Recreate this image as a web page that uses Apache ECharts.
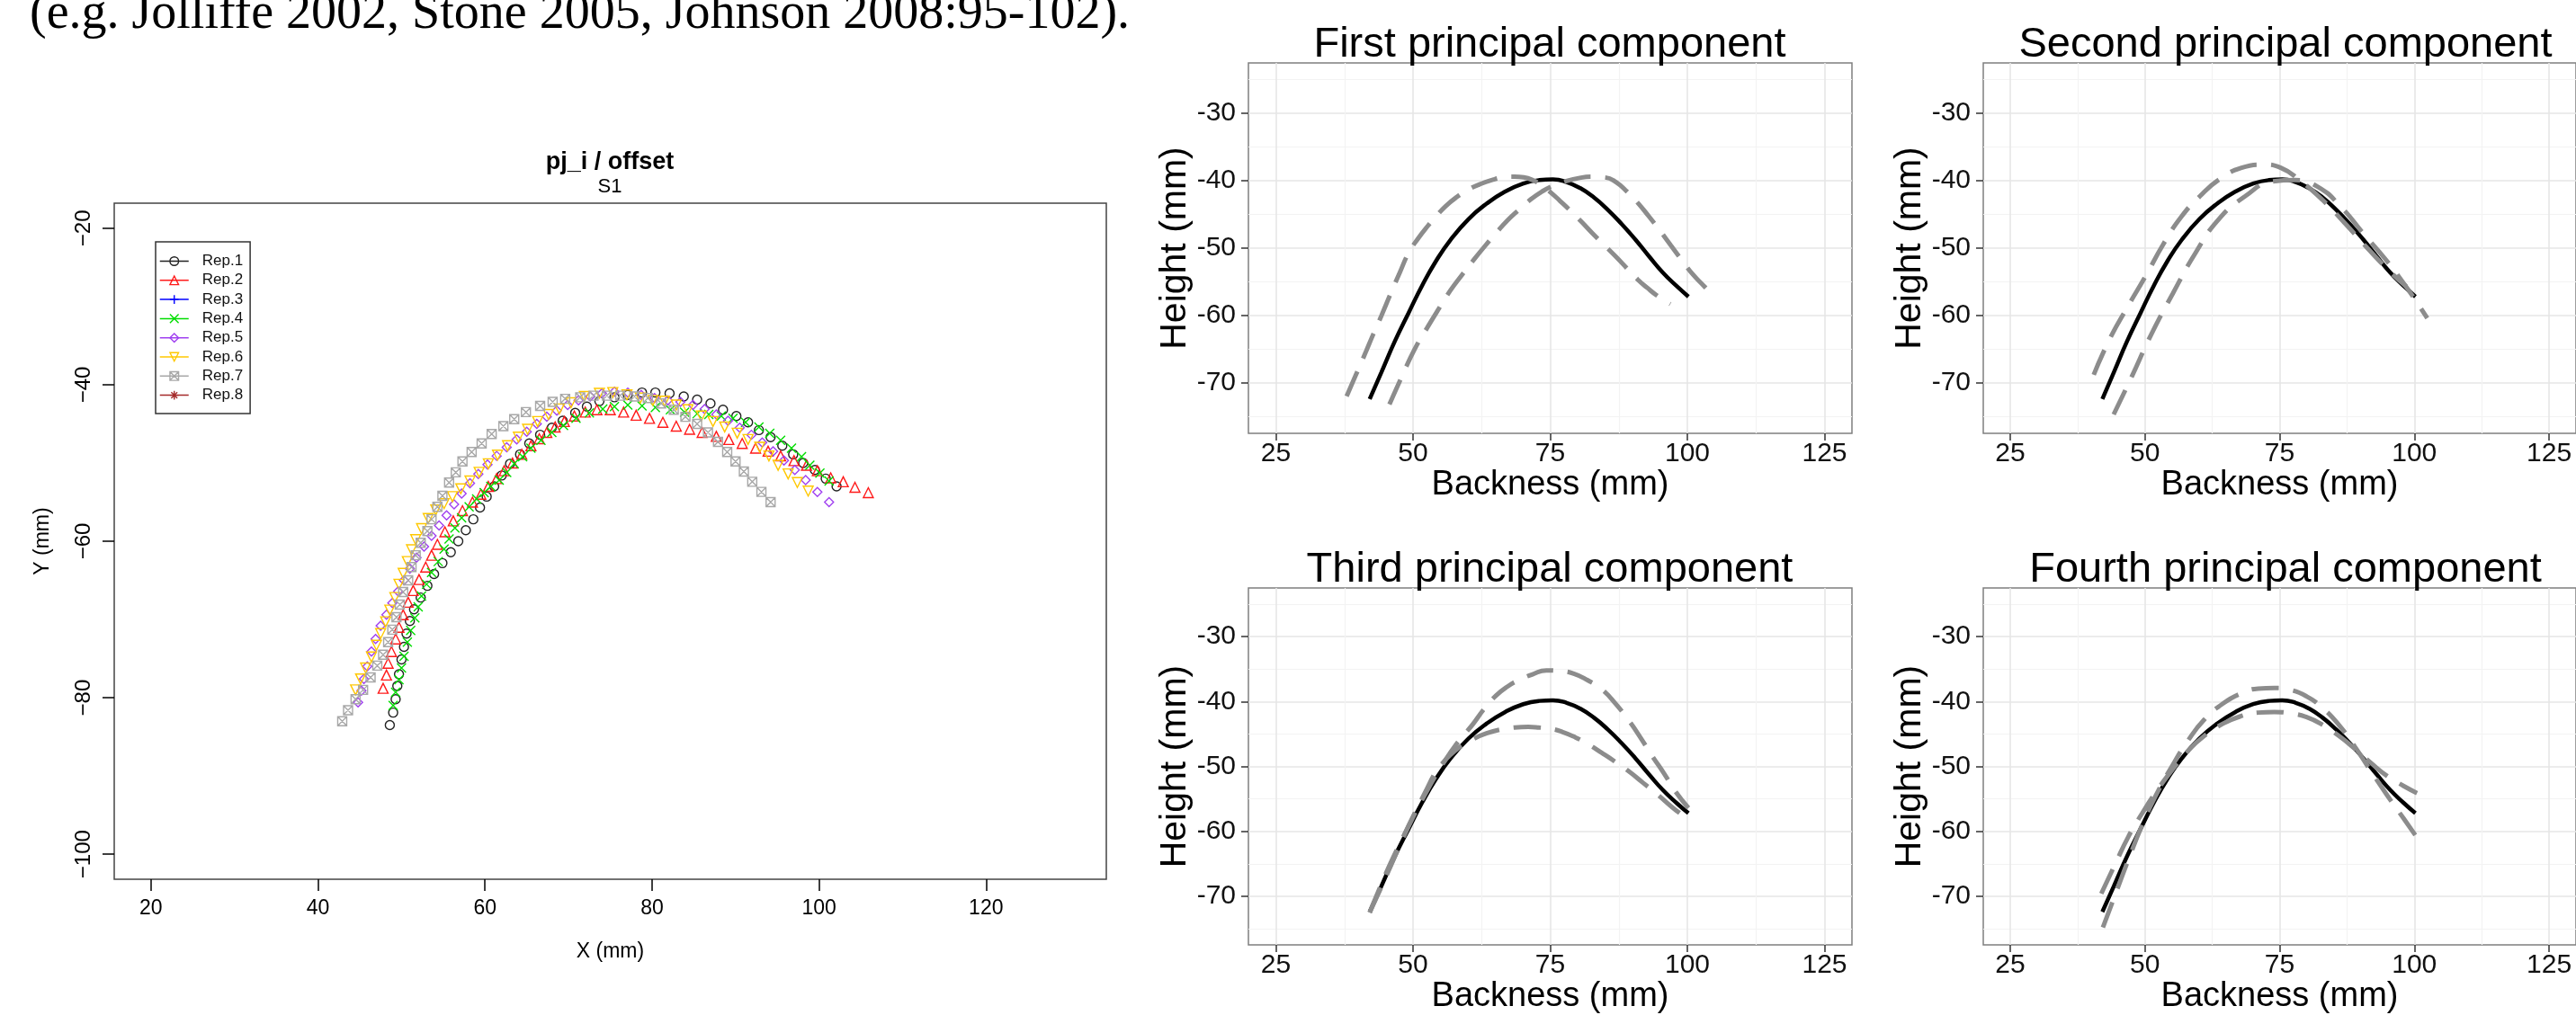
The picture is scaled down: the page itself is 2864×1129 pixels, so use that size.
<!DOCTYPE html>
<html>
<head>
<meta charset="utf-8">
<script src="https://cdn.jsdelivr.net/npm/echarts@6.0.0/dist/echarts.min.js"></script>
<style>
  html, body { margin: 0; padding: 0; background: #fff; }
  #main { width: 2864px; height: 1129px; }
</style>
</head>
<body>
<div id="main"></div>
<script>
// ---- left plot: tongue contours per repetition ----
const rTicksX = [20, 40, 60, 80, 100, 120];
const rTicksY = [-100, -80, -60, -40, -20];

const repNames = ['Rep.1', 'Rep.2', 'Rep.3', 'Rep.4', 'Rep.5', 'Rep.6', 'Rep.7', 'Rep.8'];

const rep1 = [[48.6,-83.5],[49.0,-81.9],[49.3,-80.2],[49.5,-78.5],[49.7,-77.0],[50.0,-75.1],[50.3,-73.5],[50.6,-71.8],[51.0,-70.2],[51.5,-68.7],[52.3,-67.2],[53.1,-65.7],[53.9,-64.2],[54.9,-62.8],[55.9,-61.4],[56.8,-60.0],[57.7,-58.6],[58.6,-57.2],[59.4,-55.7],[60.2,-54.3],[61.1,-53.0],[62.0,-51.6],[63.0,-50.1],[64.2,-48.9],[65.3,-47.5],[66.6,-46.4],[68.0,-45.5],[69.3,-44.6],[70.8,-43.6],[72.2,-42.8],[73.7,-42.1],[75.5,-41.6],[77.1,-41.3],[78.8,-41.0],[80.4,-41.0],[82.1,-41.1],[83.8,-41.5],[85.4,-41.9],[87.0,-42.4],[88.5,-43.2],[90.1,-44.0],[91.5,-44.8],[92.8,-45.8],[94.2,-46.7],[95.6,-47.8],[96.9,-48.9],[98.1,-50.0],[99.5,-50.9],[100.8,-52.0],[102.1,-53.0]];
const rep2 = [[47.8,-78.8],[48.2,-77.1],[48.4,-75.6],[48.8,-74.1],[49.3,-72.5],[49.7,-71.0],[50.2,-69.4],[50.8,-67.8],[51.4,-66.3],[52.1,-64.9],[52.9,-63.3],[53.6,-61.8],[54.3,-60.4],[55.2,-58.8],[56.2,-57.4],[57.3,-56.1],[58.5,-55.0],[59.5,-54.0],[60.4,-53.0],[61.4,-52.0],[62.3,-51.0],[63.3,-50.0],[64.4,-48.9],[65.5,-47.8],[66.5,-46.9],[67.4,-46.1],[68.4,-45.4],[69.5,-44.7],[70.7,-44.0],[72.0,-43.5],[73.4,-43.2],[75.0,-43.2],[76.6,-43.5],[78.1,-43.9],[79.7,-44.3],[81.3,-44.8],[82.9,-45.3],[84.5,-45.7],[86.0,-46.1],[87.7,-46.6],[89.2,-47.0],[90.8,-47.5],[92.4,-48.1],[93.9,-48.5],[95.4,-49.1],[97.0,-49.7],[98.5,-50.3],[99.8,-51.0],[101.4,-51.9],[102.9,-52.4],[104.3,-53.1],[105.9,-53.8]];
const rep3 = [];
const rep4 = [[49.0,-81.0],[49.3,-79.3],[49.7,-77.7],[50.0,-76.2],[50.3,-74.7],[50.7,-72.9],[51.1,-71.4],[51.6,-69.8],[52.0,-68.4],[52.4,-67.0],[53.0,-65.5],[53.6,-64.0],[54.4,-62.6],[55.1,-61.0],[55.7,-59.7],[56.4,-58.3],[57.2,-57.0],[58.1,-55.6],[59.0,-54.6],[59.9,-53.8],[60.7,-53.0],[61.7,-52.2],[62.6,-51.2],[63.5,-50.1],[64.5,-49.2],[65.5,-48.1],[66.7,-47.1],[68.0,-46.1],[69.4,-45.2],[70.9,-44.3],[72.5,-43.6],[74.1,-43.1],[75.5,-42.8],[77.1,-42.6],[78.8,-42.7],[80.4,-42.9],[82.2,-43.2],[83.9,-43.5],[85.4,-43.7],[86.8,-43.8],[88.3,-44.0],[89.7,-44.3],[91.2,-44.8],[92.8,-45.4],[94.1,-46.2],[95.4,-47.1],[96.7,-48.1],[97.9,-49.2],[98.9,-50.3],[100.1,-51.3],[101.2,-52.3]];
const rep5 = [[44.8,-80.6],[45.2,-79.1],[45.5,-77.6],[45.9,-76.0],[46.4,-74.1],[46.9,-72.5],[47.5,-70.8],[48.2,-69.4],[48.9,-67.9],[49.6,-66.4],[50.3,-65.0],[51.0,-63.5],[51.8,-62.1],[52.7,-60.7],[53.6,-59.3],[54.5,-58.0],[55.4,-56.7],[56.3,-55.3],[57.2,-53.9],[58.2,-52.6],[59.2,-51.4],[60.3,-50.2],[61.4,-49.1],[62.6,-48.0],[63.8,-47.0],[65.0,-46.0],[66.2,-45.0],[67.4,-44.1],[68.6,-43.3],[69.9,-42.6],[71.2,-42.0],[72.6,-41.5],[74.0,-41.1],[75.5,-40.9],[77.1,-41.0],[78.7,-41.3],[80.3,-41.7],[81.9,-42.0],[83.4,-42.2],[84.9,-42.6],[86.3,-43.1],[87.7,-43.8],[89.1,-44.6],[90.5,-45.5],[91.9,-46.4],[93.2,-47.4],[94.5,-48.5],[95.8,-49.7],[97.1,-50.9],[98.4,-52.2],[99.8,-53.7],[101.2,-55.0]];
const rep6 = [[44.5,-79.0],[45.1,-77.6],[45.7,-76.2],[46.4,-74.8],[47.0,-73.3],[47.5,-71.8],[48.1,-70.3],[48.6,-68.8],[49.2,-67.2],[49.7,-65.5],[50.2,-64.1],[50.7,-62.6],[51.2,-61.1],[51.7,-59.8],[52.4,-58.4],[53.2,-57.1],[54.1,-56.0],[55.1,-55.2],[56.1,-54.3],[57.1,-53.3],[58.2,-52.3],[59.3,-51.2],[60.4,-50.1],[61.5,-49.0],[62.7,-47.8],[64.0,-46.7],[65.1,-45.7],[66.3,-44.7],[67.6,-43.8],[68.9,-43.1],[70.3,-42.3],[71.9,-41.5],[73.7,-41.1],[75.3,-41.0],[77.0,-41.3],[78.6,-41.7],[80.1,-42.0],[81.5,-42.1],[82.9,-42.6],[84.3,-43.2],[85.9,-44.0],[87.3,-44.7],[88.7,-45.4],[90.2,-46.2],[91.5,-47.0],[92.9,-48.0],[94.0,-49.1],[95.1,-50.3],[96.3,-51.4],[97.4,-52.5],[98.7,-53.6]];
const rep7 = [[42.9,-83.0],[43.6,-81.6],[44.5,-80.2],[45.4,-79.0],[46.3,-77.4],[47.1,-75.9],[47.8,-74.5],[48.4,-72.9],[48.9,-71.3],[49.4,-69.7],[49.8,-68.1],[50.2,-66.5],[50.8,-65.0],[51.2,-63.3],[51.7,-61.8],[52.3,-60.2],[53.1,-58.7],[53.6,-57.2],[54.3,-55.6],[54.9,-54.2],[55.7,-52.5],[56.5,-51.2],[57.3,-49.8],[58.4,-48.6],[59.6,-47.5],[60.8,-46.3],[62.2,-45.3],[63.5,-44.4],[64.9,-43.5],[66.6,-42.7],[68.1,-42.2],[69.6,-41.8],[71.4,-41.6],[73.0,-41.4],[74.6,-41.4],[76.2,-41.4],[77.9,-41.5],[79.5,-41.7],[81.1,-42.4],[82.6,-43.2],[84.0,-44.1],[85.4,-45.0],[86.7,-46.1],[87.9,-47.3],[89.0,-48.6],[90.0,-49.8],[91.0,-51.1],[92.0,-52.4],[93.1,-53.7],[94.2,-55.0]];
const rep8 = [];

// ---- right panels: mean contour +/- principal components ----
const pcTicksX = [25, 50, 75, 100, 125];
const pcTicksY = [-70, -60, -50, -40, -30];
const pcMinorX = [37.5, 62.5, 87.5, 112.5];
const pcMinorY = [-75, -65, -55, -45, -35, -25];
const pcTitles = ['First principal component', 'Second principal component', 'Third principal component', 'Fourth principal component'];

const meanCurve = [[42.1,-72.4],[44.2,-68.5],[46.7,-63.8],[49.2,-59.6],[51.7,-55.5],[54.2,-51.9],[56.8,-48.8],[60.1,-45.7],[63.4,-43.4],[66.8,-41.6],[70.1,-40.4],[73.0,-39.9],[75.5,-39.8],[78.0,-40.2],[80.5,-41.1],[83.0,-42.5],[85.5,-44.3],[88.0,-46.4],[90.5,-48.7],[93.0,-51.2],[95.5,-53.6],[98.0,-55.6],[100.2,-57.2]];
const pc1a = [[37.9,-72.0],[39.6,-68.8],[41.3,-65.6],[42.8,-62.7],[44.2,-60.1],[45.9,-56.8],[47.6,-53.6],[49.2,-50.7],[50.9,-48.6],[52.6,-46.8],[54.3,-45.2],[55.9,-43.8],[58.0,-42.4],[60.1,-41.3],[62.2,-40.5],[64.3,-39.9],[66.4,-39.5],[68.5,-39.4],[70.2,-39.5],[71.8,-39.9],[73.5,-40.7],[75.2,-41.8],[76.8,-43.0],[78.5,-44.3],[80.6,-46.0],[82.7,-47.8],[84.8,-49.5],[86.9,-51.2],[89.0,-53.0],[91.0,-54.7],[92.7,-55.9],[94.4,-57.0],[96.9,-58.3]];
const pc1b = [[45.7,-73.2],[48.0,-69.0],[50.3,-65.0],[52.6,-61.8],[54.7,-59.0],[56.8,-56.3],[58.9,-54.0],[61.0,-51.8],[63.1,-49.7],[65.1,-47.8],[67.2,-45.9],[69.3,-44.3],[71.4,-42.8],[73.5,-41.6],[75.6,-40.7],[77.7,-40.1],[80.2,-39.6],[82.7,-39.4],[85.0,-39.5],[87.0,-40.2],[89.0,-41.6],[91.0,-43.3],[93.0,-45.3],[95.0,-47.4],[97.0,-49.6],[99.0,-51.8],[101.0,-53.9],[103.0,-55.6],[104.0,-56.4]];
const pc2a = [[40.5,-68.8],[43.4,-63.6],[46.8,-58.7],[50.1,-54.2],[53.5,-49.3],[56.8,-45.3],[60.2,-42.3],[63.6,-39.9],[67.8,-38.1],[72.0,-37.6],[75.3,-38.1],[78.7,-39.9],[82.9,-42.8],[87.1,-46.3],[91.3,-50.0],[95.5,-53.5],[98.5,-55.7]];
const pc2b = [[44.2,-74.7],[47.6,-69.0],[51.0,-63.1],[55.2,-56.7],[59.4,-50.7],[63.6,-45.8],[68.6,-42.3],[73.7,-40.1],[77.9,-39.9],[82.1,-40.9],[86.3,-43.8],[90.5,-47.8],[94.7,-51.7],[98.0,-55.2],[100.6,-58.2],[102.4,-60.4]];
const pc3a = [[42.1,-72.5],[44.0,-68.6],[45.9,-64.9],[48.0,-61.2],[50.1,-57.6],[52.2,-54.3],[54.2,-51.3],[55.9,-49.0],[57.6,-46.9],[59.3,-45.1],[60.9,-43.5],[63.0,-41.1],[65.1,-39.1],[67.2,-37.7],[69.3,-36.7],[71.8,-35.8],[74.3,-35.2],[76.8,-35.3],[79.3,-35.7],[81.8,-36.7],[84.4,-38.1],[86.9,-40.3],[89.4,-43.0],[91.5,-45.6],[93.6,-48.4],[95.7,-51.0],[97.7,-53.7],[100.2,-56.4]];
const pc3b = [[42.1,-72.5],[44.0,-69.0],[45.9,-65.4],[48.0,-61.4],[50.1,-57.6],[52.2,-54.0],[54.2,-50.8],[55.9,-49.0],[57.6,-47.6],[59.3,-46.6],[60.9,-45.8],[63.4,-44.9],[66.0,-44.3],[68.5,-44.0],[71.0,-43.9],[73.0,-44.0],[75.2,-44.2],[77.3,-44.7],[79.3,-45.4],[81.8,-46.5],[84.4,-47.9],[86.9,-49.3],[89.4,-50.8],[91.9,-52.5],[94.4,-54.2],[97.7,-56.6],[100.2,-58.1]];
const pc4a = [[42.2,-74.8],[44.6,-69.5],[47.0,-64.2],[49.5,-59.0],[52.0,-54.5],[55.0,-50.0],[58.0,-46.0],[61.0,-42.8],[64.5,-40.3],[68.0,-38.7],[71.0,-38.0],[74.0,-37.9],[77.0,-38.2],[80.0,-39.2],[83.0,-41.0],[86.0,-43.6],[89.0,-47.0],[92.0,-50.8],[95.0,-54.5],[98.0,-58.0],[100.2,-60.6]];
const pc4b = [[41.9,-69.6],[44.5,-65.0],[47.0,-60.7],[49.5,-57.2],[52.0,-54.0],[55.0,-50.6],[58.0,-47.6],[61.0,-45.3],[64.5,-43.4],[68.0,-42.2],[71.0,-41.7],[74.0,-41.6],[77.0,-41.8],[80.0,-42.4],[83.0,-43.6],[86.0,-45.3],[89.0,-47.3],[92.0,-49.5],[95.0,-51.5],[98.0,-53.0],[100.5,-54.1]];

const repData = [rep1, rep2, rep3, rep4, rep5, rep6, rep7, rep8];
const pcPairs = [[pc1a, pc1b], [pc2a, pc2b], [pc3a, pc3b], [pc4a, pc4b]];

// R style plotting symbols
const repColors = ['#222222', '#ff1a1a', '#0000ff', '#00dd00', '#a040f0', '#ffc800', '#a8a8a8', '#a52a2a'];
const repSymbols = [
  'circle',
  'triangle',
  'path://M5,0L5,10M0,5L10,5',
  'path://M0,0L10,10M10,0L0,10',
  'diamond',
  'path://M0,0L10,0L5,9Z',
  'path://M0,0L10,0L10,10L0,10ZM0,0L10,10M10,0L0,10',
  'path://M5,0L5,10M0,5L10,5M1.5,1.5L8.5,8.5M8.5,1.5L1.5,8.5'
];

const FONT = 'Liberation Sans';
const chart = echarts.init(document.getElementById('main'));

const panelGrids = [
  { left: 1388, top: 70, width: 671, height: 412 },
  { left: 2205, top: 70, width: 671, height: 412 },
  { left: 1388, top: 654, width: 671, height: 410 },
  { left: 2205, top: 654, width: 671, height: 410 }
];
const titlePos = [[1723, 27], [2541, 27], [1723, 611], [2541, 611]];

const grids = [{ left: 127, top: 226, width: 1103, height: 752, show: true, borderColor: '#444', borderWidth: 1.5 }];
panelGrids.forEach(g => grids.push(Object.assign({ show: true, borderColor: '#7f7f7f', borderWidth: 1.5 }, g)));

const xAxes = [{
  type: 'value', gridIndex: 0, min: 15.6, max: 134.4,
  axisLine: { show: false },
  axisTick: { show: true, length: 13, customValues: rTicksX, lineStyle: { color: '#000', width: 1.5 } },
  axisLabel: { customValues: rTicksX, margin: 21, fontFamily: FONT, fontSize: 23, color: '#000' },
  splitLine: { show: false },
  name: 'X (mm)', nameLocation: 'middle', nameGap: 69,
  nameTextStyle: { fontFamily: FONT, fontSize: 23, lineHeight: 24, color: '#000' }
}];
const yAxes = [{
  type: 'value', gridIndex: 0, min: -103.2, max: -16.8,
  axisLine: { show: false },
  axisTick: { show: true, length: 13, customValues: rTicksY, lineStyle: { color: '#000', width: 1.5 } },
  axisLabel: { customValues: rTicksY, margin: 22, rotate: 90, fontFamily: FONT, fontSize: 24, color: '#000',
    formatter: v => String(v).replace('-', '\u2212') },
  splitLine: { show: false },
  name: 'Y (mm)', nameLocation: 'middle', nameGap: 67,
  nameTextStyle: { fontFamily: FONT, fontSize: 23, lineHeight: 24, color: '#000' }
}];

const series = [];
repNames.forEach((name, i) => {
  series.push({
    name: name, type: 'line', xAxisIndex: 0, yAxisIndex: 0,
    data: repData[i],
    symbol: repSymbols[i], symbolSize: i === 1 || i === 5 ? 11 : 10,
    showSymbol: true,
    lineStyle: { color: repColors[i], opacity: 0 },
    itemStyle: { color: 'transparent', borderColor: repColors[i], borderWidth: 1.4 },
    emphasis: { disabled: true }, silent: true
  });
});

panelGrids.forEach((g, p) => {
  const gi = p + 1;
  const major = xAxes.length;
  xAxes.push({
    type: 'value', gridIndex: gi, min: 20, max: 130,
    axisLine: { show: false },
    axisTick: { show: true, length: 8, customValues: pcTicksX, lineStyle: { color: '#333', width: 1.5 } },
    axisLabel: { customValues: pcTicksX, margin: 8, fontFamily: FONT, fontSize: 30, lineHeight: 30, color: '#111' },
    splitLine: { show: true, lineStyle: { color: '#e6e6e6', width: 1.6 } },
    name: 'Backness (mm)', nameLocation: 'middle', nameGap: 36,
    nameTextStyle: { fontFamily: FONT, fontSize: 38, lineHeight: 38, color: '#000' }
  });
  xAxes.push({
    type: 'value', gridIndex: gi, min: 20, max: 130, position: 'bottom',
    axisLine: { show: false },
    axisTick: { show: false, customValues: pcMinorX },
    axisLabel: { show: false, customValues: pcMinorX },
    splitLine: { show: true, lineStyle: { color: '#f3f3f3', width: 1.2 } }
  });
  yAxes.push({
    type: 'value', gridIndex: gi, min: -77.5, max: -22.5,
    axisLine: { show: false },
    axisTick: { show: true, length: 8, customValues: pcTicksY, lineStyle: { color: '#333', width: 1.5 } },
    axisLabel: { customValues: pcTicksY, margin: 14, fontFamily: FONT, fontSize: 30, color: '#111' },
    splitLine: { show: true, lineStyle: { color: '#e6e6e6', width: 1.6 } },
    name: 'Height (mm)', nameLocation: 'middle', nameGap: 54,
    nameTextStyle: { fontFamily: FONT, fontSize: 41, lineHeight: 41, color: '#000' }
  });
  yAxes.push({
    type: 'value', gridIndex: gi, min: -77.5, max: -22.5, position: 'left',
    axisLine: { show: false },
    axisTick: { show: false, customValues: pcMinorY },
    axisLabel: { show: false, customValues: pcMinorY },
    splitLine: { show: true, lineStyle: { color: '#f3f3f3', width: 1.2 } }
  });

  series.push({
    type: 'line', xAxisIndex: major, yAxisIndex: major, data: meanCurve,
    showSymbol: false, smooth: true, silent: true, z: 3,
    lineStyle: { color: '#000', width: 4.5 }
  });
  pcPairs[p].forEach(curve => {
    series.push({
      type: 'line', xAxisIndex: major, yAxisIndex: major, data: curve,
      showSymbol: false, smooth: true, silent: true, z: 4,
      lineStyle: { color: '#8c8c8c', width: 5, type: [30, 16], cap: 'butt' }
    });
  });
});

const titles = [
  {
    text: '(e.g. Jolliffe 2002, Stone 2005, Johnson 2008:95-102).',
    left: 33, top: -12, padding: 0, textVerticalAlign: 'top',
    textStyle: { fontFamily: 'Liberation Serif', fontSize: 56, lineHeight: 57, fontWeight: 'normal', color: '#000' }
  },
  {
    text: 'pj_i / offset', subtext: 'S1',
    left: 678, top: 167, padding: 0, itemGap: 3, textAlign: 'center', textVerticalAlign: 'top',
    textStyle: { fontFamily: FONT, fontSize: 27, lineHeight: 27, fontWeight: 'bold', color: '#000' },
    subtextStyle: { fontFamily: FONT, fontSize: 22, lineHeight: 22, color: '#000' }
  }
];
pcTitles.forEach((t, p) => {
  titles.push({
    text: t, left: titlePos[p][0], top: titlePos[p][1], padding: 0,
    textAlign: 'center', textVerticalAlign: 'top',
    textStyle: { fontFamily: FONT, fontSize: 47, lineHeight: 47, fontWeight: 'normal', color: '#000' }
  });
});

const option = {
  animation: false,
  backgroundColor: '#fff',
  title: titles,
  legend: {
    orient: 'vertical', left: 173, top: 269,
    padding: [13, 8, 12, 4],
    borderColor: '#333', borderWidth: 1.5, backgroundColor: '#fff',
    itemWidth: 32, itemHeight: 12, itemGap: 4.3,
    selectedMode: false,
    textStyle: { fontFamily: FONT, fontSize: 17, lineHeight: 16, color: '#111', padding: [0, 0, 0, 10] },
    data: repNames.map((n, i) => ({
      name: n,
      itemStyle: { color: 'transparent', borderColor: repColors[i], borderWidth: 1.4 },
      lineStyle: { color: repColors[i], width: 1.5, opacity: 1 }
    }))
  },
  grid: grids,
  xAxis: xAxes,
  yAxis: yAxes,
  series: series
};

chart.setOption(option);
</script>
</body>
</html>
